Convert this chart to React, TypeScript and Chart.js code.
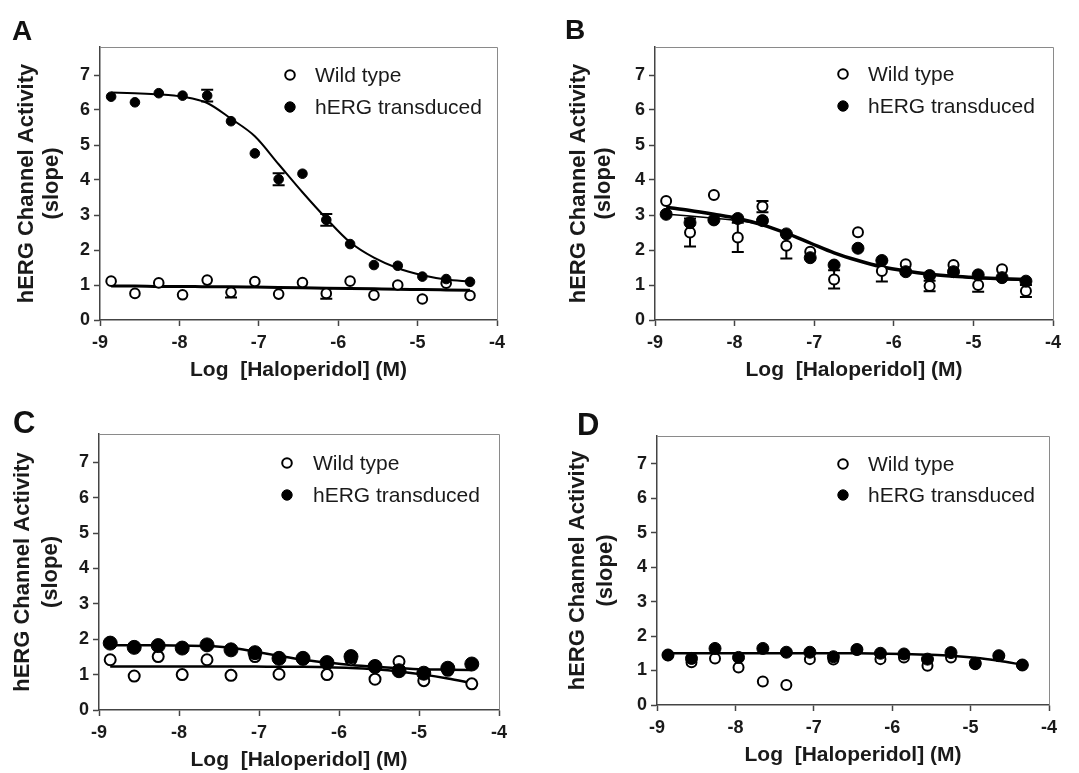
import React, { useEffect, useRef } from 'react';
import { Chart, registerables } from 'chart.js';

Chart.register(...registerables);

const FONT = '"Liberation Sans", Arial, Helvetica, sans-serif';

// ---------- data ----------
const LOG_CONC = [-8.86, -8.56, -8.26, -7.96, -7.65, -7.35, -7.05, -6.75, -6.45, -6.15, -5.85, -5.55, -5.25, -4.94, -4.64, -4.34];
const X_TICK_VALUES = [-9, -8, -7, -6, -5, -4];
const Y_TICK_VALUES = [0, 1, 2, 3, 4, 5, 6, 7];
const SERIES_LABELS = ['Wild type', 'hERG transduced'];
const X_TITLE = 'Log  [Haloperidol] (M)';
const Y_TITLE = ['hERG Channel Activity', '(slope)'];

// Panel A
const A_WILD = [1.11, 0.76, 1.06, 0.72, 1.14, 0.79, 1.10, 0.74, 1.07, 0.76, 1.11, 0.71, 1.00, 0.60, 1.05, 0.70];
const A_WILD_ERR = [0, 0, 0, 0, 0, 0.15, 0, 0, 0, 0.15, 0, 0, 0, 0, 0, 0];
const A_HERG = [6.38, 6.22, 6.48, 6.41, 6.41, 5.68, 4.76, 4.02, 4.18, 2.86, 2.17, 1.57, 1.55, 1.24, 1.17, 1.09];
const A_HERG_ERR = [0, 0, 0, 0, 0.17, 0, 0, 0.17, 0, 0.17, 0, 0, 0, 0, 0, 0];
const A_WILD_FIT = [0.97, 0.97, 0.96, 0.96, 0.95, 0.95, 0.94, 0.93, 0.92, 0.91, 0.90, 0.89, 0.88, 0.87, 0.86, 0.85];
const A_HERG_FIT = [6.50, 6.48, 6.45, 6.38, 6.20, 5.75, 5.25, 4.45, 3.65, 2.90, 2.22, 1.78, 1.48, 1.28, 1.16, 1.10];

// Panel B
const B_WILD = [3.40, 2.50, 3.57, 2.36, 3.24, 2.12, 1.95, 1.16, 2.51, 1.40, 1.59, 0.97, 1.57, 1.00, 1.45, 0.83];
const B_WILD_ERR = [0, 0.40, 0, 0.42, 0.16, 0.36, 0, 0.26, 0, 0.30, 0, 0.15, 0, 0.19, 0, 0.17];
const B_HERG = [3.02, 2.78, 2.86, 2.90, 2.84, 2.46, 1.78, 1.57, 2.05, 1.70, 1.38, 1.27, 1.38, 1.29, 1.21, 1.11];
const B_HERG_ERR = [0, 0, 0, 0, 0, 0, 0, 0, 0, 0, 0, 0, 0, 0, 0, 0];
const B_WILD_FIT = [3.22, 3.13, 3.02, 2.90, 2.72, 2.48, 2.20, 1.92, 1.70, 1.52, 1.40, 1.31, 1.25, 1.21, 1.18, 1.16];
const B_HERG_FIT = [3.02, 2.97, 2.91, 2.84, 2.72, 2.48, 2.20, 1.92, 1.70, 1.52, 1.40, 1.31, 1.24, 1.19, 1.16, 1.13];

// Panel C
const C_WILD = [1.42, 0.96, 1.51, 1.00, 1.42, 0.98, 1.51, 1.01, 1.44, 1.00, 1.42, 0.87, 1.37, 0.83, 1.12, 0.74];
const C_WILD_ERR = [0, 0, 0, 0, 0, 0, 0, 0, 0, 0, 0, 0, 0, 0, 0, 0];
const C_HERG = [1.89, 1.77, 1.82, 1.75, 1.84, 1.70, 1.62, 1.46, 1.46, 1.34, 1.51, 1.23, 1.11, 1.04, 1.18, 1.30];
const C_HERG_ERR = [0, 0, 0, 0, 0, 0, 0, 0, 0, 0, 0, 0, 0, 0, 0, 0];
const C_WILD_FIT = [1.23, 1.23, 1.23, 1.23, 1.23, 1.23, 1.23, 1.22, 1.22, 1.21, 1.19, 1.15, 1.09, 1.00, 0.89, 0.76];
const C_HERG_FIT = [1.83, 1.83, 1.83, 1.82, 1.81, 1.76, 1.65, 1.53, 1.42, 1.34, 1.27, 1.22, 1.18, 1.15, 1.14, 1.13];

// Panel D
const D_WILD = [1.44, 1.24, 1.35, 1.09, 0.68, 0.58, 1.33, 1.32, 1.60, 1.33, 1.38, 1.14, 1.38, 1.18, 1.42, 1.16];
const D_WILD_ERR = [0, 0, 0, 0, 0, 0, 0, 0, 0, 0, 0, 0, 0, 0, 0, 0];
const D_HERG = [1.45, 1.35, 1.64, 1.38, 1.64, 1.53, 1.53, 1.40, 1.61, 1.50, 1.48, 1.33, 1.52, 1.21, 1.43, 1.16];
const D_HERG_ERR = [0, 0, 0, 0, 0, 0, 0, 0, 0, 0, 0, 0, 0, 0, 0, 0];
const D_FIT = [1.50, 1.50, 1.50, 1.50, 1.50, 1.50, 1.50, 1.50, 1.50, 1.49, 1.48, 1.46, 1.43, 1.37, 1.28, 1.17];

// ---------- layout / style per panel ----------
const PANELS = [
  {
    letter: 'A', left: 0, top: 0, width: 540, height: 386,
    padTop: 47, padRight: 43, yAxisW: 100, xAxisH: 66, xTitlePad: 5.5,
    yTitleLH: 25, yTitlePad: 14.5, letterX: 12, letterY: 40, letterSize: 28,
    legend: { dx: 190, dy: 28, gap: 32, textDx: 25 },
    filledR: 4.8, openR: 4.8,
    wild: A_WILD, wildErr: A_WILD_ERR, herg: A_HERG, hergErr: A_HERG_ERR,
    fits: [{ values: A_WILD_FIT, width: 3 }, { values: A_HERG_FIT, width: 2 }],
  },
  {
    letter: 'B', left: 540, top: 0, width: 539, height: 386,
    padTop: 47, padRight: 26, yAxisW: 115, xAxisH: 66, xTitlePad: 5.5,
    yTitleLH: 25, yTitlePad: 26.5, letterX: 25, letterY: 39, letterSize: 28,
    legend: { dx: 188, dy: 27, gap: 32, textDx: 25 },
    filledR: 6, openR: 5,
    wild: B_WILD, wildErr: B_WILD_ERR, herg: B_HERG, hergErr: B_HERG_ERR,
    fits: [{ values: B_WILD_FIT, width: 3.5 }, { values: B_HERG_FIT, width: 1.5 }],
  },
  {
    letter: 'C', left: 0, top: 386, width: 540, height: 387,
    padTop: 48, padRight: 41, yAxisW: 99, xAxisH: 63, xTitlePad: 2.5,
    yTitleLH: 28, yTitlePad: 9, letterX: 13, letterY: 47, letterSize: 31,
    legend: { dx: 188, dy: 29, gap: 32, textDx: 26 },
    filledR: 7, openR: 5.5,
    wild: C_WILD, wildErr: C_WILD_ERR, herg: C_HERG, hergErr: C_HERG_ERR,
    fits: [{ values: C_WILD_FIT, width: 2.5 }, { values: C_HERG_FIT, width: 2.5 }],
  },
  {
    letter: 'D', left: 540, top: 386, width: 539, height: 387,
    padTop: 50, padRight: 30, yAxisW: 117, xAxisH: 68, xTitlePad: 7.5,
    yTitleLH: 28, yTitlePad: 24, letterX: 37, letterY: 49, letterSize: 31,
    legend: { dx: 186, dy: 28, gap: 31, textDx: 25 },
    filledR: 6, openR: 5,
    wild: D_WILD, wildErr: D_WILD_ERR, herg: D_HERG, hergErr: D_HERG_ERR,
    fits: [{ values: D_FIT, width: 2.5 }],
  },
];

const toPoints = (ys: number[]) => LOG_CONC.map((x, i) => ({ x, y: ys[i] }));

// ---------- plugins ----------
const errorBarPlugin = {
  id: 'errorBars',
  beforeDatasetsDraw(chart: any, _args: any, opts: any) {
    const { ctx } = chart;
    const yScale = chart.scales.y;
    ctx.save();
    ctx.strokeStyle = '#000';
    ctx.lineWidth = opts.lineWidth || 2;
    chart.data.datasets.forEach((ds: any, di: number) => {
      if (!ds.errors) return;
      const meta = chart.getDatasetMeta(di);
      meta.data.forEach((pt: any, i: number) => {
        const e = ds.errors[i];
        if (!e) return;
        const v = ds.data[i].y;
        const y1 = yScale.getPixelForValue(v + e);
        const y2 = yScale.getPixelForValue(v - e);
        const hw = opts.capHalf || 6;
        ctx.beginPath();
        ctx.moveTo(pt.x, y1);
        ctx.lineTo(pt.x, y2);
        ctx.moveTo(pt.x - hw, y1);
        ctx.lineTo(pt.x + hw, y1);
        ctx.moveTo(pt.x - hw, y2);
        ctx.lineTo(pt.x + hw, y2);
        ctx.stroke();
      });
    });
    ctx.restore();
  },
};

const framePlugin = {
  id: 'frame',
  afterDraw(chart: any) {
    const { ctx, chartArea } = chart;
    ctx.save();
    ctx.strokeStyle = '#8a8a8a';
    ctx.lineWidth = 1;
    ctx.beginPath();
    ctx.moveTo(chartArea.left, chartArea.top + 0.5);
    ctx.lineTo(chartArea.right + 0.5, chartArea.top + 0.5);
    ctx.lineTo(chartArea.right + 0.5, chartArea.bottom);
    ctx.stroke();
    ctx.restore();
  },
};

const panelLegendPlugin = {
  id: 'panelLegend',
  afterDraw(chart: any, _args: any, opts: any) {
    const { ctx, chartArea } = chart;
    const items = chart.data.datasets
      .filter((d: any) => d.legendRow !== undefined)
      .sort((a: any, b: any) => a.legendRow - b.legendRow);
    ctx.save();
    ctx.font = `${opts.fontSize}px ${FONT}`;
    ctx.textBaseline = 'middle';
    ctx.textAlign = 'left';
    items.forEach((d: any, i: number) => {
      const cx = chartArea.left + opts.dx;
      const cy = chartArea.top + opts.dy + i * opts.gap;
      ctx.beginPath();
      ctx.arc(cx, cy, d.legendR, 0, Math.PI * 2);
      ctx.fillStyle = d.backgroundColor;
      ctx.fill();
      ctx.lineWidth = d.borderWidth;
      ctx.strokeStyle = d.borderColor;
      ctx.stroke();
      ctx.fillStyle = '#1a1a1a';
      ctx.fillText(d.label, cx + opts.textDx, cy + 1);
    });
    ctx.restore();
  },
};

const letterPlugin = {
  id: 'panelLetter',
  afterDraw(chart: any, _args: any, opts: any) {
    const { ctx } = chart;
    ctx.save();
    ctx.font = `bold ${opts.size}px ${FONT}`;
    ctx.fillStyle = '#111';
    ctx.textAlign = 'left';
    ctx.textBaseline = 'alphabetic';
    ctx.fillText(opts.text, opts.x, opts.y);
    ctx.restore();
  },
};

function buildConfig(p: any) {
  const datasets: any[] = [
    {
      label: SERIES_LABELS[1],
      data: toPoints(p.herg),
      errors: p.hergErr,
      pointRadius: p.filledR,
      backgroundColor: '#000',
      borderColor: '#000',
      borderWidth: 1,
      order: 0,
      legendRow: 1,
      legendR: 5.2,
    },
    {
      label: SERIES_LABELS[0],
      data: toPoints(p.wild),
      errors: p.wildErr,
      pointRadius: p.openR,
      backgroundColor: '#fff',
      borderColor: '#000',
      borderWidth: 2,
      order: 1,
      legendRow: 0,
      legendR: 4.8,
    },
  ];
  p.fits.forEach((f: any, i: number) => {
    datasets.push({
      label: 'fit' + i,
      data: toPoints(f.values),
      showLine: true,
      pointRadius: 0,
      borderColor: '#000',
      backgroundColor: '#000',
      borderWidth: f.width,
      cubicInterpolationMode: 'monotone',
      order: 2 + i,
    });
  });

  const tickFont = { family: FONT, size: 18, weight: 'bold' as const };
  return {
    type: 'scatter' as const,
    data: { datasets },
    plugins: [errorBarPlugin, framePlugin, panelLegendPlugin, letterPlugin],
    options: {
      responsive: false,
      animation: false as const,
      events: [],
      layout: { padding: { left: 0, top: p.padTop, right: p.padRight, bottom: 0 } },
      plugins: {
        legend: { display: false },
        tooltip: { enabled: false },
        title: { display: false },
        errorBars: { lineWidth: 2, capHalf: 6 },
        panelLegend: { ...p.legend, fontSize: 21 },
        panelLetter: { text: p.letter, x: p.letterX, y: p.letterY, size: p.letterSize },
      },
      scales: {
        x: {
          type: 'linear' as const,
          min: -9,
          max: -4,
          afterBuildTicks: (s: any) => { s.ticks = X_TICK_VALUES.map((v) => ({ value: v })); },
          afterFit: (s: any) => { s.height = p.xAxisH; },
          grid: { drawOnChartArea: false, drawTicks: true, tickLength: 6, tickWidth: 1.5, tickColor: '#444', color: '#444' },
          border: { display: true, color: '#444', width: 1.5 },
          ticks: { color: '#1a1a1a', font: tickFont, padding: 6, maxRotation: 0, autoSkip: false },
          title: {
            display: true,
            text: X_TITLE,
            color: '#1a1a1a',
            font: { family: FONT, size: 21, weight: 'bold' as const, lineHeight: 1 },
            padding: { top: 0, bottom: p.xTitlePad },
          },
        },
        y: {
          type: 'linear' as const,
          min: 0,
          max: 7.8,
          afterBuildTicks: (s: any) => { s.ticks = Y_TICK_VALUES.map((v) => ({ value: v })); },
          afterFit: (s: any) => { s.width = p.yAxisW; },
          grid: { drawOnChartArea: false, drawTicks: true, tickLength: 6, tickWidth: 1.5, tickColor: '#444', color: '#444' },
          border: { display: true, color: '#444', width: 1.5 },
          ticks: { color: '#1a1a1a', font: tickFont, padding: 4 },
          title: {
            display: true,
            text: Y_TITLE,
            color: '#1a1a1a',
            font: { family: FONT, size: 22, weight: 'bold' as const, lineHeight: p.yTitleLH / 22 },
            padding: { top: p.yTitlePad, bottom: 0 },
          },
        },
      },
    },
  };
}

function Panel({ p }: { p: any }) {
  const ref = useRef<HTMLCanvasElement | null>(null);
  useEffect(() => {
    if (!ref.current) return;
    const chart = new Chart(ref.current, buildConfig(p) as any);
    return () => chart.destroy();
  }, [p]);
  return (
    <canvas
      ref={ref}
      width={p.width}
      height={p.height}
      style={{ position: 'absolute', left: p.left, top: p.top, width: p.width, height: p.height, display: 'block' }}
    />
  );
}

export default function App() {
  return (
    <div style={{ position: 'absolute', left: 0, top: 0, width: 1079, height: 773, background: '#fff', overflow: 'hidden' }}>
      {PANELS.map((p) => (
        <Panel key={p.letter} p={p} />
      ))}
    </div>
  );
}
